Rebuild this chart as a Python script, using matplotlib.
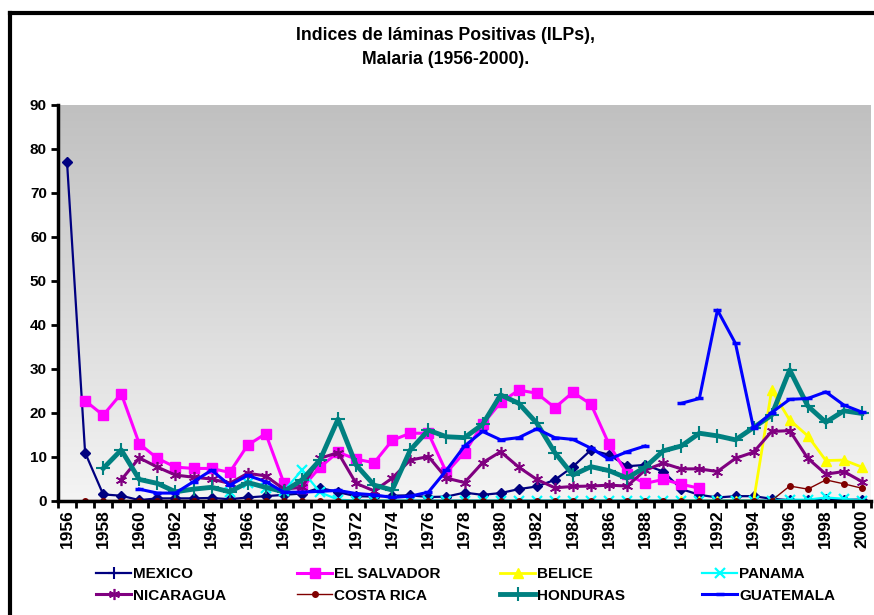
import numpy as np
import matplotlib
matplotlib.use('Agg')
import matplotlib.pyplot as plt
from matplotlib.colors import LinearSegmentedColormap
from matplotlib.lines import Line2D

plt.rcParams['font.family'] = ['Liberation Sans', 'DejaVu Sans']
plt.rcParams['font.weight'] = 'bold'

nan = np.nan
years = np.arange(1956, 2001)

mexico = [77, 11, 1.5, 1.2, 0.2, 0.6, 0.6, 0.6, 0.7, 0.4,
          0.8, 1.1, 1.4, 1.7, 3.0, 2.0, 1.1, 1.0, 1.2, 1.3,
          0.9, 1.0, 1.9, 1.4, 1.8, 2.7, 3.3, 4.8, 7.8, 11.6,
          10.5, 7.9, 8.2, 6.7, 2.7, 1.4, 0.8, 1.1, 1.1, 0.5,
          0.2, 0.2, 0.4, 0.3, 0.3]
el_salvador = [nan, 22.8, 19.5, 24.4, 13.0, 9.7, 7.7, 7.4, 7.4, 6.5,
               12.7, 15.3, 4.1, 2.9, 7.7, 11.1, 9.5, 8.7, 13.8, 15.4,
               15.4, 6.5, 11.0, 17.4, 22.4, 25.2, 24.5, 21.2, 24.7, 22.0,
               12.9, 6.1, 4.0, 4.9, 3.8, 2.9, nan, nan, nan, nan,
               nan, nan, nan, nan, nan]
belice = [nan] * 34 + [0, 0, 0, 0, 0, 25.2, 18.4, 14.8, 9.2, 9.3, 7.7]
panama = [nan] * 9 + [2.1, 4.0, 2.9, 2.3, 7.0, 2.0, 0.3] + [0.1] * 24 + [0.3, 0.3, 0.8, 0.5, 0.1]
nicaragua = [nan, nan, nan,
             4.8, 9.8, 7.7, 5.9, 5.4, 5.0, 4.0, 6.3, 5.7, 2.7,
             3.1, 9.7, 11.0, 4.0, 2.3, 5.2, 9.3, 10.1, 5.2, 4.2,
             8.7, 11.2, 7.7, 4.9, 3.0, 3.3, 3.4, 3.6, 3.4, 7.0,
             8.6, 7.3, 7.3, 6.7, 9.7, 11.1, 15.8, 16.0, 9.7, 6.1,
             6.7, 4.4]
costa_rica = [nan] + [0.1] * 39 + [3.4, 2.7, 4.8, 3.9, 2.9]
honduras = [nan, nan,
            7.4, 11.6, 4.9, 4.0, 2.1, 2.7, 3.1, 2.1, 4.2, 3.1,
            2.1, 4.8, 9.3, 18.6, 8.2, 3.6, 2.5, 11.6, 16.1, 14.6,
            14.4, 17.4, 24.1, 22.2, 17.7, 11.0, 5.9, 7.8, 6.9, 5.2,
            7.7, 11.4, 12.5, 15.4, 14.8, 13.9, 16.7, 19.5, 29.8, 21.6,
            17.9, 20.5, 19.9]
guatemala = [nan, nan, nan, nan,
             2.7, 1.8, 1.8, 4.4, 7.0, 3.6, 5.8, 4.4, 2.0, 2.0,
             2.2, 2.4, 1.7, 1.4, 0.8, 1.1, 2.0, 7.0, 12.5, 15.8,
             13.9, 14.4, 16.4, 14.4, 14.0, 12.0, 9.5, 11.2, 12.5, nan,
             22.2, 23.3, 43.4, 35.8, 16.5, 20.1, 23.1, 23.3, 24.8, 21.8,
             20.2]

fig = plt.figure(figsize=(8.74, 6.15), dpi=100)
ax = fig.add_axes([58 / 874, 1 - 501 / 615, 813 / 874, 396 / 615])
ax.set_xlim(1955.5, 2000.5)
ax.set_ylim(0, 90)

# gray gradient background
cmap = LinearSegmentedColormap.from_list('bg', ['#c0c0c0', '#f4f4f4'])
ax.imshow(np.linspace(0, 1, 256).reshape(-1, 1), cmap=cmap, aspect='auto',
          extent=[1955.5, 2000.5, 0, 90], zorder=0)

# series
l_mex, = ax.plot(years, mexico, color='#000080', lw=1.6, marker='D', ms=5, zorder=3)
l_sal, = ax.plot(years, el_salvador, color='#ff00ff', lw=2.2, marker='s', ms=6.5, zorder=3)
l_bel, = ax.plot(years, belice, color='#ffff00', lw=2.0, marker='^', ms=7.5, zorder=3)
l_pan, = ax.plot(years, panama, color='#00ffff', lw=1.6, marker='x', ms=7, mew=1.6, zorder=3)
l_nic, = ax.plot(years, nicaragua, color='#800080', lw=2.2, marker=(6, 2, 0), ms=8, mew=1.2, zorder=3)
l_cr, = ax.plot(years, costa_rica, color='#800000', lw=1.0, marker='o', ms=4, zorder=4)
l_hon, = ax.plot(years, honduras, color='#008080', lw=3.5, marker='+', ms=10, mew=1.5, zorder=3)
l_gua, = ax.plot(years, guatemala, color='#0000ff', lw=2.2, marker='_', ms=6, mew=2.5, zorder=4)

# axes styling
for s in ['top', 'right']:
    ax.spines[s].set_visible(False)
for s in ['left', 'bottom']:
    ax.spines[s].set_linewidth(2.5)
    ax.spines[s].set_zorder(5)

ax.set_yticks(np.arange(0, 91, 10))
ax.tick_params(axis='y', direction='out', length=5, width=2, labelsize=11, pad=3)
ax.set_xticks(np.arange(1956, 2001, 2))
ax.set_xticklabels([str(y) for y in range(1956, 2001, 2)], rotation=90, fontsize=12.5,
                   fontweight='bold')
ax.set_xticks(np.arange(1955.5, 2000.6, 1), minor=True)
ax.tick_params(axis='x', which='major', length=0, pad=6)
ax.tick_params(axis='x', which='minor', direction='out', length=5, width=2)
for lab in ax.get_yticklabels():
    lab.set_fontweight('bold')

# title
fig.text(446 / 874, 1 - 35 / 615, 'Indices de láminas Positivas (ILPs),', ha='center',
         va='center', fontsize=12.7, fontweight='bold')
fig.text(446 / 874, 1 - 59 / 615, 'Malaria (1956-2000).', ha='center',
         va='center', fontsize=12.7, fontweight='bold')

# figure frame (top and left visible)
fig.add_artist(Line2D([10 / 874, 1.0], [1 - 13 / 615, 1 - 13 / 615], color='black', lw=3,
                      transform=fig.transFigure))
fig.add_artist(Line2D([10 / 874, 10 / 874], [0, 1 - 13 / 615], color='black', lw=3,
                      transform=fig.transFigure))

# legend, 4 columns of 2 rows
mex_handle = Line2D([], [], color='#000080', lw=1.6, marker='+', ms=9, mew=1.5)
columns = [
    ([mex_handle, l_nic], ['MEXICO', 'NICARAGUA'], 96),
    ([l_sal, l_cr], ['EL SALVADOR', 'COSTA RICA'], 297),
    ([l_bel, l_hon], ['BELICE', 'HONDURAS'], 500),
    ([l_pan, l_gua], ['PANAMA', 'GUATEMALA'], 702),
]
for handles, labels, xpix in columns:
    fig.legend(handles, labels, loc='upper left', bbox_to_anchor=(xpix / 874, 1 - 567 / 615),
               frameon=False, borderpad=0, borderaxespad=0, handlelength=2.3,
               handletextpad=0.15, labelspacing=0.5, numpoints=1,
               prop={'weight': 'bold', 'size': 11})

fig.savefig('out.png', dpi=100)
